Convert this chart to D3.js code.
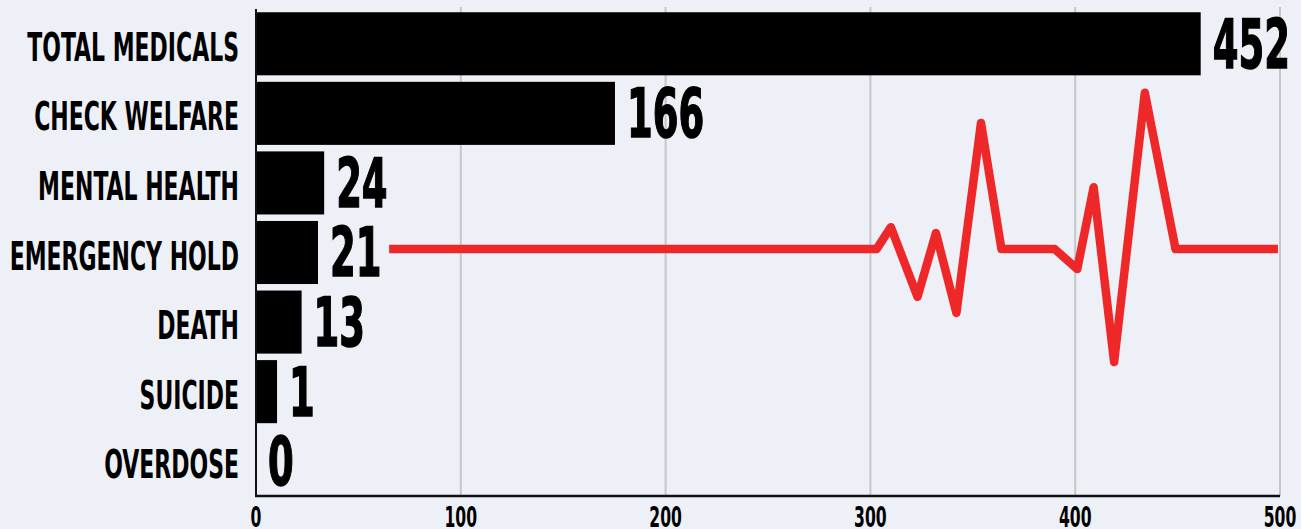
<!DOCTYPE html>
<html>
<head>
<meta charset="utf-8">
<script src="https://cdn.jsdelivr.net/npm/d3@7"></script>
<style>
  html, body { margin: 0; padding: 0; background: #edf0f6; }
  svg { display: block; }
</style>
</head>
<body>
<div id="chart"></div>
<script>
// categories and counts
const categories = ["TOTAL MEDICALS", "CHECK WELFARE", "MENTAL HEALTH", "EMERGENCY HOLD", "DEATH", "SUICIDE", "OVERDOSE"];
const counts = [452, 166, 24, 21, 13, 1, 0];
const xTicks = [0, 100, 200, 300, 400, 500];

// decorative pulse line: x in axis units, y in 0-100 amplitude units
const pulseX = [65, 303, 310, 323, 332, 342, 354, 364, 390, 401, 409, 419, 434, 449, 499];
const pulseY = [50.7, 50.7, 55.2, 40.9, 54.0, 37.6, 76.6, 50.7, 50.7, 46.6, 63.4, 27.5, 82.8, 50.7, 50.7];

const W = 1301, H = 529;
const margin = { top: 9, right: 21, bottom: 33, left: 256 };
const innerW = W - margin.left - margin.right,
    innerH = H - margin.top - margin.bottom;

const font = "'DejaVu Sans Condensed', 'DejaVu Sans', sans-serif";
const barPad = 19;   // bars are drawn a bit longer than the value

const svg = d3.select("#chart")
    .append("svg")
    .attr("width", W)
    .attr("height", H);

svg.append("rect")
    .attr("width", W)
    .attr("height", H)
    .attr("fill", "#edf0f6");

const g = svg.append("g")
    .attr("transform", `translate(${margin.left},${margin.top})`);

const x = d3.scaleLinear()
    .domain([0, 500])
    .range([0, innerW]);

const y = d3.scaleBand()
    .domain(categories)
    .range([0, innerH])
    .paddingInner(0.0935)
    .paddingOuter(0.0467);

const yPulse = d3.scaleLinear()
    .domain([0, 100])
    .range([innerH, 0]);

// grid lines
g.append("g")
    .selectAll("line")
    .data(xTicks.filter(d => d > 0))
    .join("line")
    .attr("x1", d => x(d))
    .attr("x2", d => x(d))
    .attr("y1", -2)
    .attr("y2", innerH)
    .attr("stroke", "#c5c7cb")
    .attr("stroke-width", 2);

// bars
const data = categories.map((c, i) => ({ name: c, value: counts[i] }));

g.append("g")
    .selectAll("rect")
    .data(data.filter(d => d.value > 0))
    .join("rect")
    .attr("x", 0)
    .attr("y", d => y(d.name))
    .attr("width", d => x(d.value) - x(0) + barPad)
    .attr("height", y.bandwidth())
    .attr("fill", "#000");

// pulse line
const pts = pulseX.map((v, i) => [v, pulseY[i]]);
g.append("path")
    .datum(pts)
    .attr("fill", "none")
    .attr("stroke", "#ee2828")
    .attr("stroke-width", 8.5)
    .attr("stroke-linejoin", "round")
    .attr("d", d3.line()
        .x(d => x(d[0]))
        .y(d => yPulse(d[1]))
    );

// axes lines
g.append("line")
    .attr("x1", 0).attr("x2", 0)
    .attr("y1", 0).attr("y2", innerH + 1)
    .attr("stroke", "#111")
    .attr("stroke-width", 2);

g.append("line")
    .attr("x1", -1).attr("x2", x(500))
    .attr("y1", innerH).attr("y2", innerH)
    .attr("stroke", "#111")
    .attr("stroke-width", 2.5);

// helper for condensed text
function squeezed(sel, sx) {
    sel.attr("transform", function () {
        const t = d3.select(this);
        return `translate(${t.attr("data-x")},${t.attr("data-y")}) scale(${sx},1)`;
    });
}

// category labels
const catSize = 38.5;
g.append("g")
    .selectAll("text")
    .data(data)
    .join("text")
    .attr("data-x", -17)
    .attr("data-y", d => y(d.name) + y.bandwidth() / 2 + 3 + catSize * 0.729 / 2)
    .attr("text-anchor", "end")
    .style("font-family", font)
    .style("font-weight", "bold")
    .style("font-size", catSize + "px")
    .attr("fill", "#000")
    .text(d => d.name)
    .call(squeezed, 0.635);

// value labels
const valSize = 68.5;
g.append("g")
    .selectAll("text")
    .data(data)
    .join("text")
    .attr("data-x", d => (d.value > 0 ? x(d.value) + barPad : 0) + 12)
    .attr("data-y", d => y(d.name) + y.bandwidth() / 2 + valSize * 0.729 / 2 - 1)
    .style("font-family", font)
    .style("font-weight", "bold")
    .style("font-size", valSize + "px")
    .attr("fill", "#000")
    .attr("stroke", "#000")
    .attr("stroke-width", 1.5)
    .text(d => d.value)
    .call(squeezed, 0.6);

// x tick labels
const tickSize = 28;
g.append("g")
    .selectAll("text")
    .data(xTicks)
    .join("text")
    .attr("data-x", d => x(d))
    .attr("data-y", innerH + 31)
    .attr("text-anchor", "middle")
    .style("font-family", font)
    .style("font-weight", "bold")
    .style("font-size", tickSize + "px")
    .attr("fill", "#000")
    .text(d => d)
    .call(squeezed, 0.62);
</script>
</body>
</html>
